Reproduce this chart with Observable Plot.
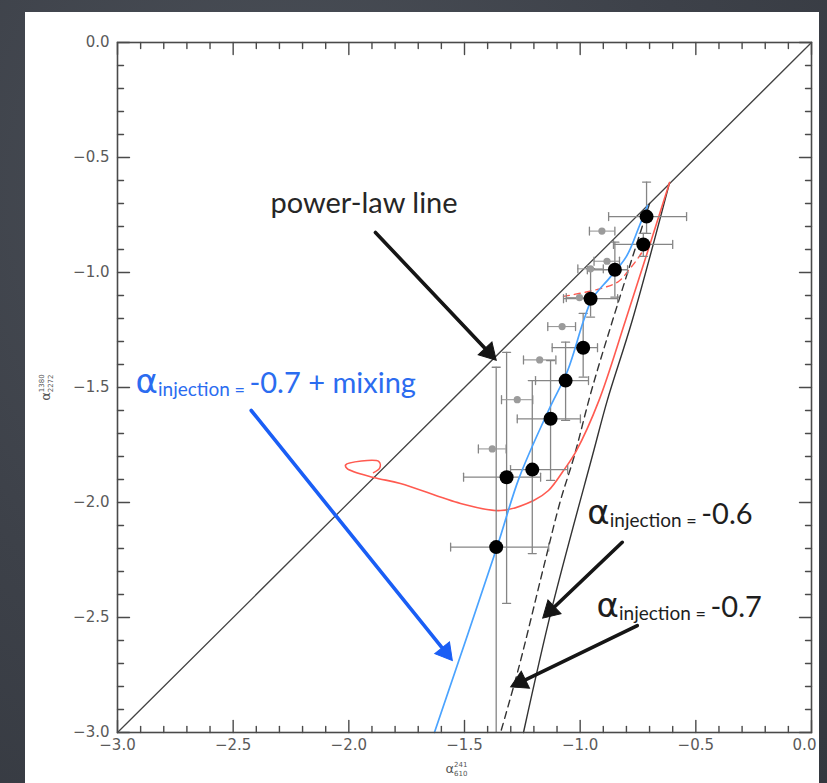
<!DOCTYPE html>
<html><head><meta charset="utf-8">
<script src="https://cdn.jsdelivr.net/npm/d3@7"></script>
<script src="https://cdn.jsdelivr.net/npm/@observablehq/plot@0.6"></script>
<style>
html,body{margin:0;padding:0;width:827px;height:783px;overflow:hidden;}
body{background: radial-gradient(ellipse at 35% 25%, #4b5058 0%, #3d4149 55%, #34383f 100%);}
#panel{position:absolute;left:25px;top:12px;width:794px;height:771px;background:#fff;overflow:hidden;}
#chart{position:absolute;left:-25px;top:-12px;width:827px;height:783px;}
#chart svg{max-width:none !important;width:827px;height:783px;}
</style></head><body><div id="panel"><div id="chart"></div></div>
<script>
// ---- tick values ----
const majorTicks = [-3, -2.5, -2, -1.5, -1, -0.5, 0];
const minorTicks = d3.range(-30, 1).map(i => i / 10).filter(v => Math.abs(v * 2 - Math.round(v * 2)) > 1e-6);

// ---- power-law line ----
const diagX = [-3, 0];
const diagY = [-3, 0];

// ---- black data points with errors ----
const ptX   = [-0.713, -0.727, -0.850, -0.955, -0.987, -1.063, -1.128, -1.207, -1.318, -1.363];
const ptY   = [-0.757, -0.878, -0.988, -1.114, -1.327, -1.470, -1.636, -1.857, -1.890, -2.194];
const ptXlo = [-0.877, -0.856, -0.969, -1.072, -1.121, -1.193, -1.272, -1.301, -1.504, -1.560];
const ptXhi = [-0.540, -0.600, -0.795, -0.838, -0.925, -0.964, -0.999, -1.054, -1.171, -1.136];
const ptYlo = [-0.830, -0.930, -1.107, -1.194, -1.455, -1.643, -1.904, -2.222, -2.439, -3.000];
const ptYhi = [-0.607, -0.830, -0.868, -0.983, -1.178, -1.303, -1.383, -1.470, -1.347, -1.412];

// ---- gray data points ----
const grX   = [-0.906, -0.884, -0.955, -1.003, -1.078, -1.175, -1.272, -1.380];
const grY   = [-0.820, -0.951, -0.984, -1.109, -1.235, -1.380, -1.553, -1.767];
const grXlo = [-0.960, -0.940, -1.010, -1.060, -1.140, -1.245, -1.340, -1.440];
const grXhi = [-0.850, -0.830, -0.900, -0.950, -1.020, -1.105, -1.205, -1.320];

// ---- model curves ----
const inj06X = [-0.6135, -0.775, -0.883, -0.941, -1.121, -1.245];
const inj06Y = [-0.609, -1.209, -1.557, -1.774, -2.455, -3.000];
const inj07X = [-0.700, -0.860, -0.951, -1.027, -1.085, -1.158, -1.265, -1.344];
const inj07Y = [-0.700, -1.209, -1.513, -1.803, -1.991, -2.281, -2.716, -3.000];
const mixX = [-1.630, -1.360, -1.265, -1.137, -1.054, -0.985, -0.947, -0.870, -0.800, -0.745, -0.709];
const mixY = [-3.000, -2.196, -1.896, -1.600, -1.426, -1.209, -1.113, -1.020, -0.930, -0.800, -0.709];
const redX = [-0.6135, -0.804, -0.919, -1.016, -1.072, -1.137, -1.201, -1.344, -1.517, -1.777, -1.893, -2.007, -2.014, -1.870, -1.866, -1.893];
const redY = [-0.609, -1.209, -1.557, -1.774, -1.861, -1.948, -1.991, -2.035, -2.004, -1.917, -1.891, -1.853, -1.837, -1.822, -1.849, -1.870];
const redDashX = [-1.072, -0.912, -0.834, -0.791, -0.748, -0.700];
const redDashY = [-1.104, -1.070, -1.039, -0.991, -0.935, -0.860];

// ---- annotations ----
const annText  = ["power-law line", "α|injection|=|-0.7 + mixing", "α|injection|=|-0.6", "α|injection|=|-0.7"];
const annX     = [-2.339, -2.922, -0.969, -0.929];
const annY     = [-0.743, -1.522, -2.093, -2.496];
const annColor = ["#262626", "#2b6cf0", "#1e1e1e", "#1e1e1e"];

const arrX1 = [-1.885, -2.422, -0.818, -0.753];
const arrY1 = [-0.826, -1.600, -2.173, -2.535];
const arrX2 = [-1.395, -1.582, -1.128, -1.258];
const arrY2 = [-1.347, -2.650, -2.470, -2.781];
const arrColor = ["#151515", "#1a5ef5", "#151515", "#151515"];
const arrDash  = [null, null, null, "7,5"];

// ---- build tables ----
const pts = ptX.map((x, i) => ({x, y: ptY[i], xlo: ptXlo[i], xhi: ptXhi[i], ylo: ptYlo[i], yhi: ptYhi[i]}));
const grs = grX.map((x, i) => ({x, y: grY[i], xlo: grXlo[i], xhi: grXhi[i]}));
const line = (X, Y) => X.map((x, i) => ({x, y: Y[i]}));
const anns = annText.map((t, i) => ({t, x: annX[i], y: annY[i], c: annColor[i]}));
const arrs = arrX1.map((x1, i) => ({x1, y1: arrY1[i], x2: arrX2[i], y2: arrY2[i], c: arrColor[i], d: arrDash[i],
  rot: Math.atan2(arrX2[i] - x1, arrY2[i] - arrY1[i]) * 180 / Math.PI}));

const caps = [];
pts.forEach(p => { caps.push({x: p.xlo, y: p.y, r: 0}, {x: p.xhi, y: p.y, r: 0});
  if (p.ylo > -3) caps.push({x: p.x, y: p.ylo, r: 90}); caps.push({x: p.x, y: p.yhi, r: 90}); });
grs.forEach(p => { caps.push({x: p.xlo, y: p.y, r: 0}, {x: p.xhi, y: p.y, r: 0}); });

const tickShape = {draw(ctx, l) { ctx.moveTo(0, 0); ctx.lineTo(0, -l); }};
const capShape = {draw(ctx, l) { ctx.moveTo(0, -l / 2); ctx.lineTo(0, l / 2); }};
const axc = "#4a4a4a";
const tickMarks = [];
for (const [vals, len] of [[majorTicks, 12], [minorTicks, 6]]) {
  tickMarks.push(
    Plot.vector(vals, {x: d => d, frameAnchor: "bottom", rotate: 0, length: len, anchor: "start", shape: tickShape, stroke: axc, strokeWidth: 1.4}),
    Plot.vector(vals, {x: d => d, frameAnchor: "top", rotate: 180, length: len, anchor: "start", shape: tickShape, stroke: axc, strokeWidth: 1.4}),
    Plot.vector(vals, {y: d => d, frameAnchor: "left", rotate: 90, length: len, anchor: "start", shape: tickShape, stroke: axc, strokeWidth: 1.4}),
    Plot.vector(vals, {y: d => d, frameAnchor: "right", rotate: -90, length: len, anchor: "start", shape: tickShape, stroke: axc, strokeWidth: 1.4})
  );
}
const fmt = d3.format(".1f");
const ebc = "#858585";
const lastTick = majorTicks[majorTicks.length - 1];

const chart = Plot.plot({
  width: 827, height: 783,
  marginLeft: 117, marginRight: 16, marginTop: 42, marginBottom: 51,
  x: {domain: [-3, 0]},
  y: {domain: [-3, 0]},
  style: {background: "transparent", fontFamily: "DejaVu Sans", fontSize: "15px", color: "#5a5a5a"},
  marks: [
    Plot.axisX(majorTicks.slice(0, -1), {anchor: "bottom", tickSize: 0, tickPadding: 7, tickFormat: fmt, label: null}),
    Plot.axisX([lastTick], {anchor: "bottom", tickSize: 0, tickPadding: 7, tickFormat: fmt, label: null, dx: -7}),
    Plot.axisY(majorTicks, {anchor: "left", tickSize: 0, tickPadding: 8, tickFormat: fmt, label: null}),
    ...tickMarks,
    Plot.line(line(diagX, diagY), {x: "x", y: "y", stroke: "#444", strokeWidth: 1.3}),
    Plot.line(line(inj06X, inj06Y), {x: "x", y: "y", stroke: "#333", strokeWidth: 1.4, curve: "catmull-rom"}),
    Plot.line(line(inj07X, inj07Y), {x: "x", y: "y", stroke: "#333", strokeWidth: 1.4, strokeDasharray: "7,5", curve: "catmull-rom"}),
    Plot.line(line(redX, redY), {x: "x", y: "y", stroke: "#ff5a50", strokeWidth: 1.6, curve: "catmull-rom"}),
    Plot.line(line(redDashX, redDashY), {x: "x", y: "y", stroke: "#ff5a50", strokeWidth: 1.4, strokeDasharray: "6,5", curve: "catmull-rom"}),
    // error bars
    Plot.ruleY(pts, {y: "y", x1: "xlo", x2: "xhi", stroke: ebc, strokeWidth: 1.3}),
    Plot.ruleX(pts, {x: "x", y1: "ylo", y2: "yhi", stroke: ebc, strokeWidth: 1.3}),
    Plot.ruleY(grs, {y: "y", x1: "xlo", x2: "xhi", stroke: "#9a9a9a", strokeWidth: 1.1}),
    Plot.vector(caps, {x: "x", y: "y", rotate: "r", length: 8, anchor: "start", shape: capShape, stroke: ebc, strokeWidth: 1.3}),
    Plot.line(line(mixX, mixY), {x: "x", y: "y", stroke: "#4aa3ff", strokeWidth: 1.7, curve: "catmull-rom"}),
    Plot.dot(grs, {x: "x", y: "y", r: 3.6, fill: "#9b9b9b"}),
    Plot.dot(pts, {x: "x", y: "y", r: 7, fill: "#000"}),
    // arrows
    Plot.arrow(arrs, {x1: "x1", y1: "y1", x2: "x2", y2: "y2", stroke: "c", strokeWidth: 3.6, headLength: 0, insetEnd: 6, strokeDasharray: "d"}),
    Plot.dot(arrs, {x: "x2", y: "y2", symbol: "triangle", r: 7, rotate: "rot", fill: "c", stroke: "c", strokeWidth: 1}),
    // annotation text
    Plot.text(anns, {x: "x", y: "y", text: d => "A|" + d.t, fill: "c", textAnchor: "start", lineAnchor: "bottom", fontFamily: "Lato", fontSize: 28}),
    // axis labels
    Plot.text(["X|α|241|610"], {frameAnchor: "bottom", dy: 40, dx: -8, textAnchor: "middle", lineAnchor: "bottom", fill: "#555", fontSize: 13}),
    Plot.text(["X|α|1380|2272"], {frameAnchor: "left", dx: -68, rotate: -90, textAnchor: "middle", lineAnchor: "bottom", fill: "#555", fontSize: 13}),
    Plot.frame({stroke: axc, strokeWidth: 1.6})
  ]
});

const NS = "http://www.w3.org/2000/svg";
function tspan(t, txt, attrs) {
  const s = document.createElementNS(NS, "tspan");
  for (const k in attrs) s.setAttribute(k, attrs[k]);
  s.textContent = txt; t.appendChild(s); return s;
}
chart.querySelectorAll("text").forEach(t => {
  const s = t.textContent;
  if (s.startsWith("A|")) {
    const parts = s.slice(2).split("|");
    t.removeAttribute("dy");
    t.textContent = "";
    if (parts.length === 1) { tspan(t, parts[0], {"font-size": 29}); return; }
    tspan(t, parts[0], {"font-size": 34, "font-family": "DejaVu Sans"});
    tspan(t, parts[1], {"font-size": 19, dy: 3});
    tspan(t, " " + parts[2] + " ", {"font-size": 18});
    tspan(t, parts[3], {"font-size": 29, dy: -3});
  } else if (s.startsWith("X|")) {
    const parts = s.slice(2).split("|");
    t.removeAttribute("dy");
    t.textContent = "";
    tspan(t, parts[0], {"font-size": 13});
    tspan(t, parts[1], {"font-size": 7, dy: -6});
    const w = parts[1].length * 4.5;
    tspan(t, parts[2], {"font-size": 7, dy: 9, dx: -w});
  }
});
document.getElementById("chart").appendChild(chart);
</script>
</body></html>
